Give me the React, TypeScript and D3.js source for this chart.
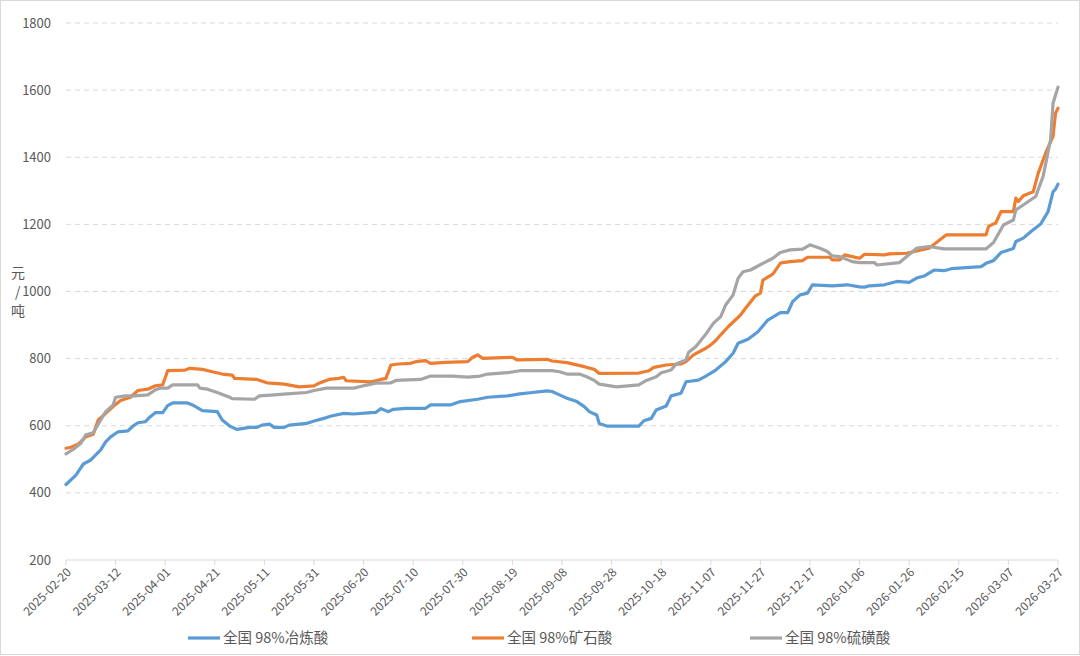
import React from "react";
import * as d3 from "d3";

const seriesNames = ["全国 98%冶炼酸", "全国 98%矿石酸", "全国 98%硫磺酸"];
const seriesColors = ["#5b9bd5", "#ed7d31", "#a5a5a5"];

const smeltDates = ["2025-02-20","2025-02-24","2025-02-27","2025-03-02","2025-03-06","2025-03-08","2025-03-10","2025-03-13","2025-03-17","2025-03-19","2025-03-21","2025-03-24","2025-03-26","2025-03-28","2025-03-31","2025-04-02","2025-04-04","2025-04-10","2025-04-12","2025-04-16","2025-04-22","2025-04-24","2025-04-27","2025-04-30","2025-05-05","2025-05-08","2025-05-10","2025-05-13","2025-05-15","2025-05-19","2025-05-21","2025-05-28","2025-05-31","2025-06-04","2025-06-07","2025-06-12","2025-06-16","2025-06-23","2025-06-25","2025-06-27","2025-06-30","2025-07-02","2025-07-07","2025-07-15","2025-07-17","2025-07-25","2025-07-29","2025-08-05","2025-08-09","2025-08-17","2025-08-22","2025-08-27","2025-09-02","2025-09-04","2025-09-07","2025-09-10","2025-09-14","2025-09-17","2025-09-19","2025-09-22","2025-09-23","2025-09-26","2025-10-09","2025-10-11","2025-10-14","2025-10-16","2025-10-20","2025-10-22","2025-10-26","2025-10-28","2025-11-02","2025-11-05","2025-11-09","2025-11-13","2025-11-16","2025-11-18","2025-11-22","2025-11-26","2025-11-30","2025-12-05","2025-12-08","2025-12-10","2025-12-13","2025-12-16","2025-12-18","2025-12-26","2026-01-01","2026-01-06","2026-01-08","2026-01-10","2026-01-16","2026-01-21","2026-01-26","2026-01-29","2026-02-01","2026-02-05","2026-02-09","2026-02-12","2026-02-24","2026-02-26","2026-03-01","2026-03-04","2026-03-09","2026-03-10","2026-03-13","2026-03-16","2026-03-20","2026-03-23","2026-03-25","2026-03-26","2026-03-27"];
const smeltValues = [425,453,486,498,528,552,567,582,585,599,609,612,627,639,639,660,668,668,662,645,642,617,599,589,595,595,602,605,595,595,602,607,614,622,629,637,635,639,640,651,642,649,652,652,662,662,672,679,685,689,695,699,704,702,692,682,672,657,642,632,607,599,599,615,622,647,659,689,697,731,736,748,766,791,816,846,858,880,915,937,937,970,990,995,1020,1017,1020,1014,1013,1017,1020,1030,1027,1040,1046,1064,1062,1068,1074,1084,1092,1116,1128,1149,1159,1178,1201,1238,1297,1305,1320];

const oreDates = ["2025-02-20","2025-02-22","2025-02-25","2025-02-28","2025-03-03","2025-03-05","2025-03-08","2025-03-11","2025-03-14","2025-03-18","2025-03-21","2025-03-25","2025-03-28","2025-03-31","2025-04-02","2025-04-09","2025-04-11","2025-04-16","2025-04-20","2025-04-24","2025-04-28","2025-04-29","2025-05-08","2025-05-12","2025-05-19","2025-05-25","2025-05-31","2025-06-02","2025-06-06","2025-06-10","2025-06-12","2025-06-13","2025-06-23","2025-06-27","2025-06-29","2025-07-01","2025-07-04","2025-07-09","2025-07-11","2025-07-15","2025-07-17","2025-07-23","2025-08-01","2025-08-03","2025-08-05","2025-08-06","2025-08-07","2025-08-19","2025-08-21","2025-09-02","2025-09-04","2025-09-10","2025-09-13","2025-09-17","2025-09-21","2025-09-23","2025-10-09","2025-10-13","2025-10-15","2025-10-20","2025-10-26","2025-10-28","2025-10-31","2025-11-05","2025-11-07","2025-11-09","2025-11-11","2025-11-14","2025-11-19","2025-11-21","2025-11-25","2025-11-27","2025-11-28","2025-12-02","2025-12-05","2025-12-06","2025-12-09","2025-12-14","2025-12-16","2025-12-25","2025-12-26","2025-12-29","2025-12-31","2026-01-03","2026-01-06","2026-01-08","2026-01-16","2026-01-18","2026-01-25","2026-02-03","2026-02-10","2026-02-26","2026-02-27","2026-03-02","2026-03-04","2026-03-09","2026-03-10","2026-03-11","2026-03-13","2026-03-17","2026-03-19","2026-03-22","2026-03-25","2026-03-26","2026-03-27"];
const oreValues = [533,536,546,567,575,617,637,657,675,685,705,709,719,722,764,766,771,768,761,754,751,741,738,728,724,716,719,727,738,741,744,734,731,738,741,781,784,786,791,794,786,789,791,804,811,806,801,804,796,798,793,788,783,776,768,756,757,764,774,781,784,791,811,831,841,854,871,895,930,950,987,995,1034,1052,1084,1086,1089,1092,1102,1102,1094,1094,1109,1104,1099,1111,1109,1112,1114,1129,1169,1169,1194,1205,1238,1238,1278,1268,1285,1297,1352,1412,1462,1531,1546];

const sulfurDates = ["2025-02-20","2025-02-23","2025-02-26","2025-02-28","2025-03-03","2025-03-06","2025-03-08","2025-03-11","2025-03-12","2025-03-16","2025-03-20","2025-03-25","2025-03-28","2025-03-30","2025-04-02","2025-04-04","2025-04-14","2025-04-15","2025-04-18","2025-04-22","2025-04-27","2025-04-28","2025-05-07","2025-05-09","2025-05-15","2025-05-20","2025-05-28","2025-05-31","2025-06-05","2025-06-16","2025-06-20","2025-06-25","2025-07-01","2025-07-03","2025-07-13","2025-07-17","2025-07-26","2025-08-01","2025-08-06","2025-08-09","2025-08-17","2025-08-22","2025-09-04","2025-09-07","2025-09-10","2025-09-15","2025-09-18","2025-09-21","2025-09-23","2025-09-30","2025-10-09","2025-10-12","2025-10-16","2025-10-18","2025-10-22","2025-10-24","2025-10-28","2025-10-29","2025-11-01","2025-11-05","2025-11-08","2025-11-11","2025-11-13","2025-11-16","2025-11-18","2025-11-20","2025-11-23","2025-11-26","2025-11-28","2025-12-02","2025-12-05","2025-12-09","2025-12-14","2025-12-17","2025-12-21","2025-12-24","2025-12-26","2025-12-29","2026-01-03","2026-01-06","2026-01-12","2026-01-13","2026-01-22","2026-01-25","2026-01-29","2026-02-03","2026-02-09","2026-02-26","2026-03-01","2026-03-05","2026-03-09","2026-03-10","2026-03-14","2026-03-18","2026-03-21","2026-03-24","2026-03-25","2026-03-27"];
const sulfurValues = [516,530,548,573,579,617,642,662,685,689,689,692,707,712,712,722,722,712,709,699,685,681,679,689,692,695,699,705,712,712,719,727,728,735,738,748,748,745,748,754,758,764,764,761,754,754,746,735,724,716,722,735,746,758,766,784,796,818,836,873,905,925,960,990,1039,1059,1064,1076,1084,1099,1116,1124,1126,1139,1129,1119,1106,1104,1089,1086,1086,1079,1086,1104,1129,1134,1127,1127,1146,1198,1213,1243,1263,1283,1343,1452,1561,1609];

const yTicks = [200, 400, 600, 800, 1000, 1200, 1400, 1600, 1800];
const xTickStart = "2025-02-20";
const xTickStepDays = 20;
const xTickCount = 21;

const W = 1080;
const H = 656;
const FONT = "'Noto Sans CJK SC', 'Noto Sans', sans-serif";

export default function App() {
  const parse = d3.timeParse("%Y-%m-%d");
  const fmt = d3.timeFormat("%Y-%m-%d");
  const start = parse(xTickStart) as Date;
  const xTicks = d3.range(xTickCount).map((i) => d3.timeDay.offset(start, i * xTickStepDays));

  const x = d3.scaleTime().domain([start, xTicks[xTicks.length - 1]]).range([66, 1058]);
  const y = d3.scaleLinear().domain([200, 1800]).range([560, 23]);

  const series = [
    { dates: smeltDates, values: smeltValues },
    { dates: oreDates, values: oreValues },
    { dates: sulfurDates, values: sulfurValues },
  ].map((s) => s.dates.map((d, i) => ({ date: parse(d) as Date, value: s.values[i] })));

  const line = d3
    .line<{ date: Date; value: number }>()
    .x((d) => x(d.date))
    .y((d) => y(d.value));

  const legendX = [188, 472, 750];

  return (
    <svg
      width={W}
      height={H}
      style={{ position: "absolute", left: 0, top: 0, background: "#fff" }}
      fontFamily={FONT}
    >
      <rect x={0.5} y={0.5} width={W - 1} height={H - 2} fill="#fff" stroke="#d9d9d9" />
      {yTicks.map((t) => (
        <g key={t}>
          {t !== 200 && (
            <line
              x1={66}
              x2={1058}
              y1={y(t)}
              y2={y(t)}
              stroke="#d9d9d9"
              strokeWidth={1}
              strokeDasharray="5,4"
            />
          )}
          <text x={51} y={y(t)} dy="0.35em" textAnchor="end" fontSize={13} fill="#595959">
            {t}
          </text>
        </g>
      ))}
      <line x1={66} x2={1058} y1={560} y2={560} stroke="#d9d9d9" strokeWidth={1} />
      {xTicks.map((t, i) => (
        <g key={i} transform={`translate(${x(t)},560)`}>
          <line y1={0} y2={5} stroke="#d9d9d9" />
          <text
            transform="translate(3,10) rotate(-45)"
            textAnchor="end"
            dy="0.35em"
            fontSize={12}
            fill="#595959"
          >
            {fmt(t)}
          </text>
        </g>
      ))}
      <text fontSize={14} fill="#595959">
        <tspan x={11} y={278}>元</tspan>
        <tspan x={15} y={297}>/</tspan>
        <tspan x={11} y={316}>吨</tspan>
      </text>
      {series.map((s, i) => (
        <path
          key={i}
          d={line(s) || ""}
          fill="none"
          stroke={seriesColors[i]}
          strokeWidth={3.2}
          strokeLinejoin="round"
          strokeLinecap="round"
        />
      ))}
      {seriesNames.map((n, i) => (
        <g key={n}>
          <line
            x1={legendX[i]}
            x2={legendX[i] + 32}
            y1={638}
            y2={638}
            stroke={seriesColors[i]}
            strokeWidth={3.2}
          />
          <text x={legendX[i] + 35} y={638} dy="0.35em" fontSize={14.5} fill="#595959">
            {n}
          </text>
        </g>
      ))}
    </svg>
  );
}
